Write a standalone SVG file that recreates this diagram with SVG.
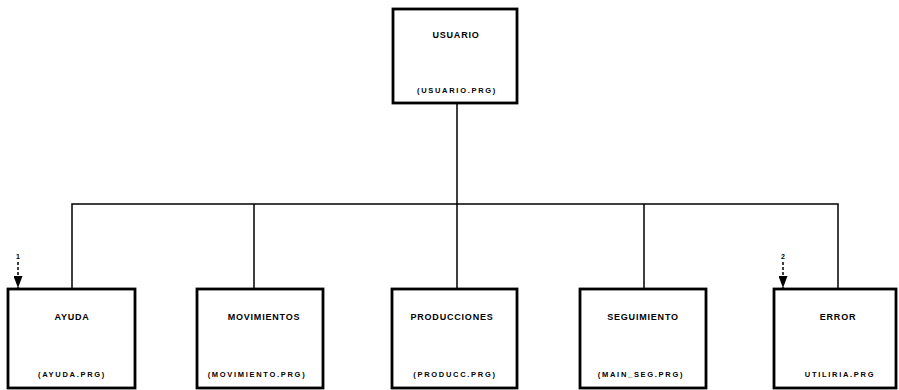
<svg xmlns="http://www.w3.org/2000/svg" width="899" height="390" viewBox="0 0 899 390">
<defs>
<style>
.box{fill:#fff;stroke:#000;stroke-width:2.8}
.t{font-family:"Liberation Sans",Arial,sans-serif;font-weight:bold;font-size:9px;letter-spacing:0.8px;text-anchor:middle;fill:#000}
.f{font-family:"Liberation Sans",Arial,sans-serif;font-weight:bold;font-size:7.5px;letter-spacing:1.7px;text-anchor:middle;fill:#000}
.n{font-family:"Liberation Sans",Arial,sans-serif;font-weight:bold;font-size:7px;text-anchor:middle;fill:#000}
.c{fill:none;stroke:#000;stroke-width:1.5}
.d{fill:none;stroke:#000;stroke-width:1.5;stroke-dasharray:3 2}
</style>
<marker id="ah" markerWidth="12" markerHeight="9" refX="12" refY="4.5" orient="auto" markerUnits="userSpaceOnUse" viewBox="0 0 12 9">
<path d="M0,0 L12,4.5 L0,9 Z" fill="#000"/>
</marker>
</defs>
<g id="connectors">
<path class="c" d="M457,103 V204 M72,289 V204 H838 V289 M254,204 V289 M457,204 V289 M644,204 V289"/>
<path class="d" d="M18,262 V288" marker-end="url(#ah)"/>
<path class="d" d="M783,262 V288" marker-end="url(#ah)"/>
<text class="n" x="18" y="259">1</text>
<text class="n" x="783" y="259">2</text>
</g>
<g id="usuario">
<rect class="box" x="393" y="9" width="124" height="94"/>
<text class="t" x="456" y="38">USUARIO</text>
<text class="f" x="457" y="93">(USUARIO.PRG)</text>
</g>
<g id="ayuda">
<rect class="box" x="8" y="289" width="127" height="99"/>
<text class="t" x="72" y="320">AYUDA</text>
<text class="f" x="72" y="377">(AYUDA.PRG)</text>
</g>
<g id="movimientos">
<rect class="box" x="197" y="289" width="126" height="99"/>
<text class="t" x="264" y="320">MOVIMIENTOS</text>
<text class="f" x="257" y="377">(MOVIMIENTO.PRG)</text>
</g>
<g id="producciones">
<rect class="box" x="392" y="289" width="125" height="99"/>
<text class="t" x="452" y="320">PRODUCCIONES</text>
<text class="f" x="455" y="377">(PRODUCC.PRG)</text>
</g>
<g id="seguimiento">
<rect class="box" x="580" y="289" width="126" height="99"/>
<text class="t" x="643" y="320">SEGUIMIENTO</text>
<text class="f" x="641" y="377">(MAIN_SEG.PRG)</text>
</g>
<g id="error">
<rect class="box" x="774" y="289" width="122" height="99"/>
<text class="t" x="838" y="320">ERROR</text>
<text class="f" x="840" y="377">UTILIRIA.PRG</text>
</g>
</svg>
